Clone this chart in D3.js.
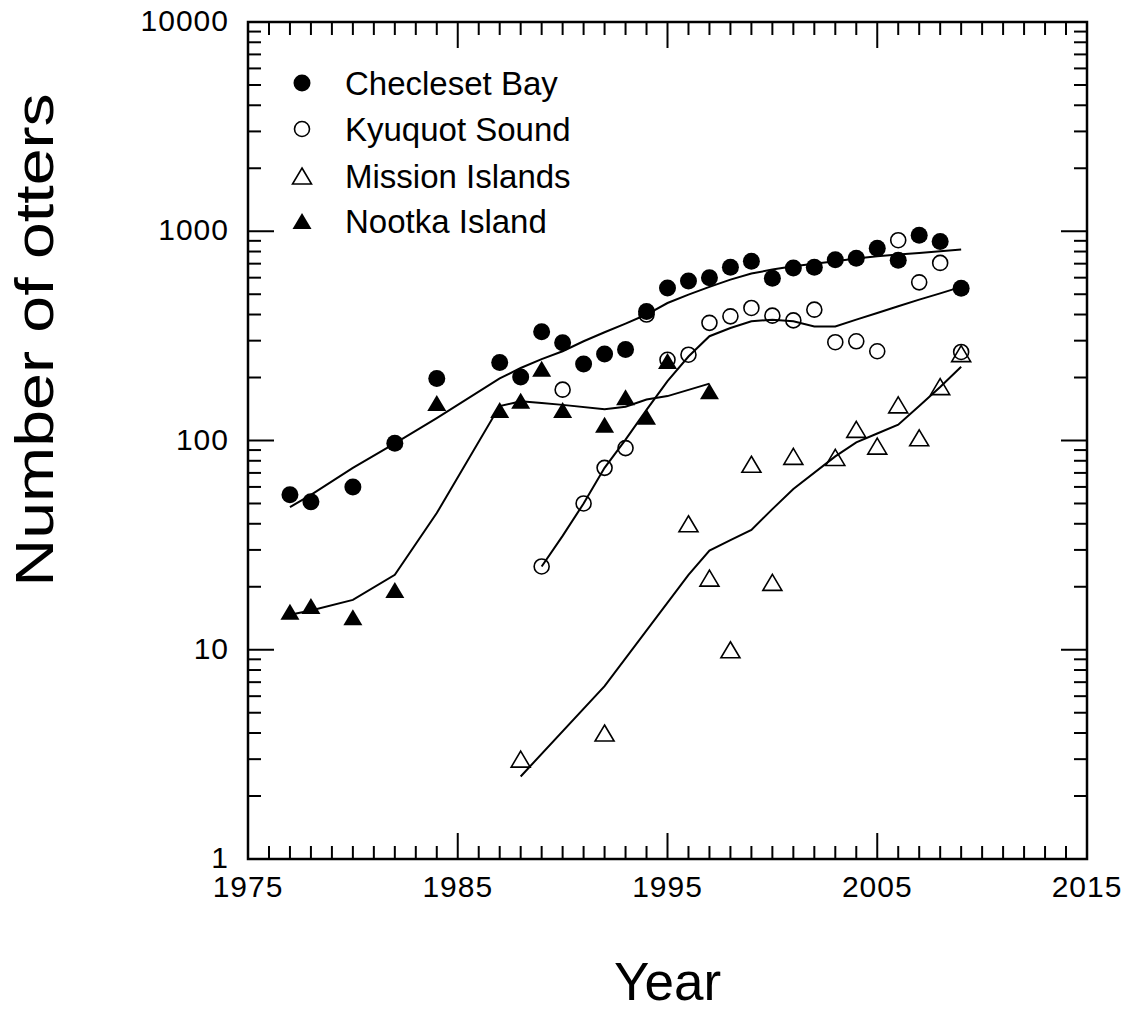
<!DOCTYPE html>
<html>
<head>
<meta charset="utf-8">
<script src="https://cdn.jsdelivr.net/npm/d3@7"></script>
<style>
  body { margin: 0; background: #fff; }
  svg { display: block; font-family: "Liberation Sans", Arial, sans-serif; }
</style>
</head>
<body>
<div id="chart"></div>
<script>
// sea otter counts per area
const checlesetYears = [1977, 1978, 1980, 1982, 1984, 1987, 1988, 1989, 1990, 1991, 1992, 1993, 1994, 1995, 1996, 1997, 1998, 1999, 2000, 2001, 2002, 2003, 2004, 2005, 2006, 2007, 2008, 2009]
const checlesetCounts = [55, 51, 60, 97, 198, 236, 201, 331, 293, 232, 259, 272, 414, 536, 579, 600, 673, 719, 596, 668, 673, 730, 743, 829, 727, 957, 893, 534]
const checlesetTrend = [48, 55, 74, 97, 128, 198, 222, 245, 267, 298, 329, 362, 400, 454, 498, 542, 587, 628, 656, 680, 700, 719, 740, 759, 774, 788, 802, 817]

const kyuquotYears = [1989, 1990, 1991, 1992, 1993, 1994, 1995, 1996, 1997, 1998, 1999, 2000, 2001, 2002, 2003, 2004, 2005, 2006, 2007, 2008, 2009]
const kyuquotCounts = [25, 175, 50, 74, 92, 400, 243, 257, 365, 392, 430, 395, 375, 422, 295, 298, 267, 906, 570, 706, 265]
const kyuquotTrend = [25, 35, 50, 74, 101, 140, 192, 252, 315, 345, 371, 378, 371, 351, 351, 378, 407, 438, 471, 505, 542]

const missionYears = [1988, 1992, 1996, 1997, 1998, 1999, 2000, 2001, 2003, 2004, 2005, 2006, 2007, 2008, 2009]
const missionCounts = [3.0, 4.0, 40, 22, 10, 77, 21, 84, 83, 113, 94, 148, 103, 181, 260]
const missionTrend = [2.48, 6.7, 22.8, 29.8, 33.4, 37.4, 47, 58.6, 84, 98, 108, 119, 146, 180, 225]

const nootkaYears = [1977, 1978, 1980, 1982, 1984, 1987, 1988, 1989, 1990, 1992, 1993, 1994, 1995, 1997]
const nootkaCounts = [15.2, 16.2, 14.3, 19.3, 151, 140, 155, 220, 140, 119, 161, 130, 240, 172]
const nootkaTrend = [14.7, 15.4, 17.3, 22.8, 45, 146, 154, 151, 148, 141, 145, 157, 163, 187]

const seriesNames = ['Checleset Bay', 'Kyuquot Sound', 'Mission Islands', 'Nootka Island']
const xTickLabels = [1975, 1985, 1995, 2005, 2015]
const yTickLabels = [1, 10, 100, 1000, 10000]

const width = 1127, height = 1014
const margin = {top: 22, right: 40, bottom: 155, left: 248}

const svg = d3.select('#chart')
    .append('svg')
        .attr('width', width)
        .attr('height', height)

const x = d3.scaleLinear().domain([1975, 2015]).range([margin.left, width - margin.right])
const y = d3.scaleLog().domain([1, 10000]).range([height - margin.bottom, margin.top])

const x0 = x.range()[0], x1 = x.range()[1]
const yBottom = y.range()[0], yTop = y.range()[1]

// ticks go inward on all four sides
const minorLen = 13, majorLen = 26
const ticks = svg.append('g').attr('stroke', '#000').attr('stroke-width', 2)

d3.range(1976, 2015).forEach(yr => {
    let len = xTickLabels.includes(yr) ? majorLen : minorLen
    ticks.append('line').attr('x1', x(yr)).attr('x2', x(yr)).attr('y1', yBottom).attr('y2', yBottom - len)
    ticks.append('line').attr('x1', x(yr)).attr('x2', x(yr)).attr('y1', yTop).attr('y2', yTop + len)
})

let yMinor = []
for (let d = 1; d < 10000; d *= 10) {
    for (let m = 2; m <= 9; m++) yMinor.push(d * m)
}
yMinor.forEach(v => {
    ticks.append('line').attr('x1', x0).attr('x2', x0 + minorLen).attr('y1', y(v)).attr('y2', y(v))
    ticks.append('line').attr('x1', x1).attr('x2', x1 - minorLen).attr('y1', y(v)).attr('y2', y(v))
})
yTickLabels.slice(1, -1).forEach(v => {
    ticks.append('line').attr('x1', x0).attr('x2', x0 + majorLen).attr('y1', y(v)).attr('y2', y(v))
    ticks.append('line').attr('x1', x1).attr('x2', x1 - majorLen).attr('y1', y(v)).attr('y2', y(v))
})

svg.append('rect')
    .attr('x', x0).attr('y', yTop)
    .attr('width', x1 - x0).attr('height', yBottom - yTop)
    .attr('fill', 'none').attr('stroke', '#000').attr('stroke-width', 2.5)

// tick labels
svg.selectAll('.xlabel')
    .data(xTickLabels)
    .enter().append('text')
        .attr('class', 'xlabel')
        .attr('x', d => x(d))
        .attr('y', yBottom + 38)
        .attr('text-anchor', 'middle')
        .style('font-size', '30px')
        .style('letter-spacing', '1px')
        .text(d => d)

svg.selectAll('.ylabel')
    .data(yTickLabels)
    .enter().append('text')
        .attr('class', 'ylabel')
        .attr('x', x0 - 19)
        .attr('y', d => y(d) + 9)
        .attr('text-anchor', 'end')
        .style('font-size', '30px')
        .style('letter-spacing', '1px')
        .text(d => d)

svg.append('text')
    .attr('x', (x0 + x1) / 2)
    .attr('y', 1000)
    .attr('text-anchor', 'middle')
    .style('font-size', '53px')
    .text('Year')

// the y title is drawn a bit stretched along its length, as in the figure
svg.append('text')
    .attr('transform', `translate(53, 340) rotate(-90) scale(1.25, 1)`)
    .attr('text-anchor', 'middle')
    .style('font-size', '53px')
    .text('Number of otters')

// trend lines
const line = d3.line().x(d => x(d[0])).y(d => y(d[1]))
const trends = [
    [checlesetYears, checlesetTrend],
    [kyuquotYears, kyuquotTrend],
    [missionYears, missionTrend],
    [nootkaYears, nootkaTrend]
]
trends.forEach(([yrs, vals]) => {
    svg.append('path')
        .attr('d', line(yrs.map((yr, i) => [yr, vals[i]])))
        .attr('fill', 'none')
        .attr('stroke', '#000')
        .attr('stroke-width', 2)
})

// markers
const triPath = 'M0,-8L9.5,8L-9.5,8Z'
drawMarker = (g, type) => {
    if (type === 'filledCircle') {
        g.append('circle').attr('r', 8.5).attr('fill', '#000')
    } else if (type === 'openCircle') {
        g.append('circle').attr('r', 7.5).attr('fill', 'none').attr('stroke', '#000').attr('stroke-width', 1.6)
    } else if (type === 'openTriangle') {
        g.append('path').attr('d', triPath).attr('fill', 'none').attr('stroke', '#000').attr('stroke-width', 1.6)
    } else {
        g.append('path').attr('d', triPath).attr('fill', '#000')
    }
}

const markerTypes = ['filledCircle', 'openCircle', 'openTriangle', 'filledTriangle']
const pointSets = [
    [checlesetYears, checlesetCounts],
    [kyuquotYears, kyuquotCounts],
    [missionYears, missionCounts],
    [nootkaYears, nootkaCounts]
]
pointSets.forEach(([yrs, vals], s) => {
    yrs.forEach((yr, i) => {
        let g = svg.append('g').attr('transform', `translate(${x(yr)}, ${y(vals[i])})`)
        drawMarker(g, markerTypes[s])
    })
})

// legend
const legendRows = [83, 129, 176, 221]
seriesNames.forEach((name, i) => {
    let g = svg.append('g').attr('transform', `translate(302, ${legendRows[i]})`)
    drawMarker(g, markerTypes[i])
    svg.append('text')
        .attr('x', 345)
        .attr('y', legendRows[i] + 12)
        .style('font-size', '33px')
        .text(name)
})
</script>
</body>
</html>
